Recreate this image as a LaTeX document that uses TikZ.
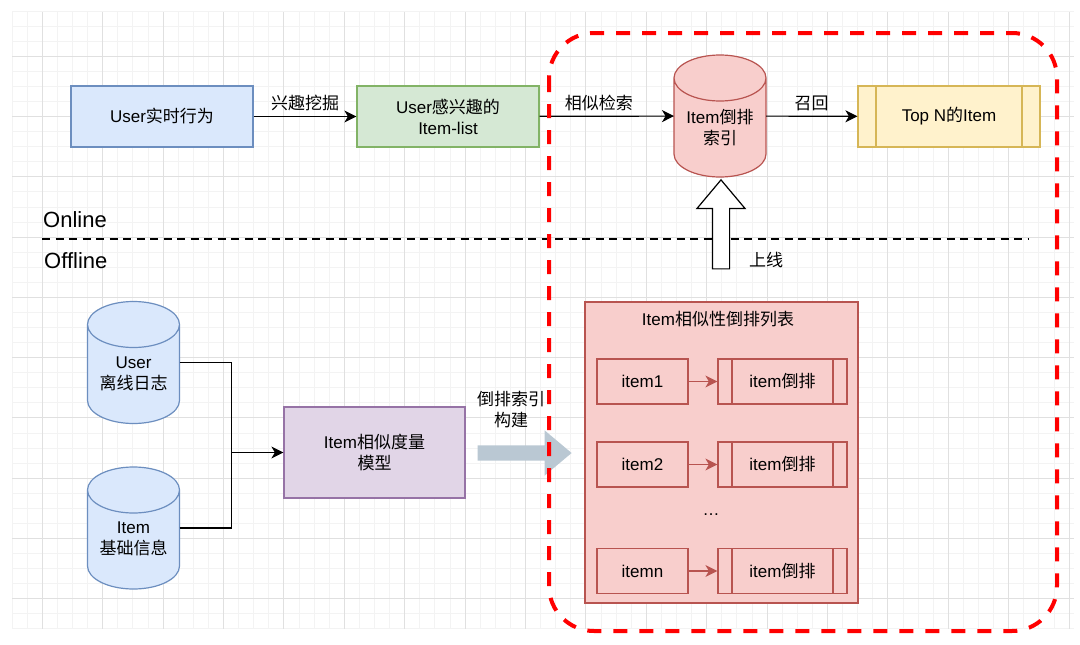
\documentclass[tikz,border=0pt]{standalone}
\usepackage{fontspec}
\setmainfont{Liberation Sans}
\newfontfamily\cjk{Noto Sans CJK SC}
\usetikzlibrary{arrows.meta,shapes.arrows}
\definecolor{blueFill}{HTML}{DAE8FC}
\definecolor{blueLine}{HTML}{6C8EBF}
\definecolor{greenFill}{HTML}{D5E8D4}
\definecolor{greenLine}{HTML}{82B366}
\definecolor{redFill}{HTML}{F8CECC}
\definecolor{redLine}{HTML}{B85450}
\definecolor{purpleFill}{HTML}{E1D5E7}
\definecolor{purpleLine}{HTML}{9673A6}
\definecolor{yellowFill}{HTML}{FFF2CC}
\definecolor{yellowLine}{HTML}{D6B656}
\definecolor{grayArrow}{HTML}{BAC8D3}
\definecolor{gridMinor}{HTML}{F3F3F3}
\definecolor{gridMajor}{HTML}{E0E0E0}
\begin{document}
\begin{tikzpicture}[x=1pt,y=-1pt,
    every node/.style={font=\fontsize{17}{21}\selectfont, align=center, inner sep=0pt},
    box/.style={draw=#1, line width=1.2pt, rectangle},
    db/.style 2 args={rectangle, minimum width=96pt, minimum height=126pt, outer sep=-2pt,
      path picture={\draw[#2, fill=#1, line width=1.2pt]
        ([shift={(-46pt,38pt)}]path picture bounding box.center) -- ([shift={(-46pt,-38pt)}]path picture bounding box.center)
        arc[start angle=180, end angle=360, x radius=46pt, y radius=23pt]
        -- ([shift={(46pt,38pt)}]path picture bounding box.center)
        arc[start angle=0, end angle=360, x radius=46pt, y radius=23pt];}},
    proc/.style 2 args={draw=#2, line width=1.2pt, rectangle,
      path picture={\draw[#2, line width=1.2pt]
        ([xshift=#1]path picture bounding box.north west) -- ([xshift=#1]path picture bounding box.south west)
        ([xshift=-#1]path picture bounding box.north east) -- ([xshift=-#1]path picture bounding box.south east);}},
    link/.style={draw, line width=1.2pt, -{Stealth[length=12pt,width=12pt,inset=3.5pt]}}
  ]

  \fill[white] (0,0) rectangle (1080,645);
  \foreach \i in {0,...,70} \draw[gridMinor, line width=0.8pt] (12+15.1*\i,12) -- (12+15.1*\i,629);
  \foreach \i in {0,...,41} \draw[gridMinor, line width=0.8pt] (12,11+15.07*\i) -- (1074,11+15.07*\i);
  \foreach \i in {0,...,17} \draw[gridMajor, line width=0.8pt] (42.2+60.4*\i,12) -- (42.2+60.4*\i,629);
  \foreach \i in {0,...,9} \draw[gridMajor, line width=0.8pt] (12,56+60.3*\i) -- (1074,56+60.3*\i);

  \begin{scope}[every node/.append style={minimum width=182pt, minimum height=61pt}]
    \node[box=blueLine, fill=blueFill] (behavior) at (162,116.5) {User{\cjk 实时行为}};
    \node[box=greenLine, fill=greenFill] (interest) at (448,116.5) {User{\cjk 感兴趣的}\\Item-list};
    \node[proc={18pt}{yellowLine}, fill=yellowFill] (topn) at (949,116.5) {Top N{\cjk 的}Item};
  \end{scope}

  \node[db={redFill}{redLine}, label={[yshift=-12pt]center:{Item{\cjk 倒排}\\{\cjk 索引}}}] (invindex) at (720,116) {};
  \node[db={blueFill}{blueLine}, label={[yshift=-11pt]center:{User\\{\cjk 离线日志}}}] (userlog) at (133.5,362.5) {};
  \node[db={blueFill}{blueLine}, label={[yshift=-11pt]center:{Item\\{\cjk 基础信息}}}] (iteminfo) at (133.5,528) {};
  \node[box=purpleLine, fill=purpleFill, minimum width=181pt, minimum height=91pt] (model) at (374.5,452.5)
    {Item{\cjk 相似度量}\\{\cjk 模型}};

  \path (behavior) edge[link] node[above=5pt] {\cjk 兴趣挖掘} (interest);
  \path (interest) edge[link] node[above=5pt, xshift=-8pt] {\cjk 相似检索} (invindex);
  \path (invindex) edge[link] node[above=5pt] {\cjk 召回} (topn);

  \draw[line width=1.2pt] (userlog.east) -- ++(52,0) |- (model.west);
  \draw[link] (iteminfo.east) -- ++(52,0) |- (model.west);

  \node[anchor=west, font=\fontsize{22}{26}\selectfont] (online) at (43,220) {Online};
  \node[anchor=west, font=\fontsize{22}{26}\selectfont] (offline) at (44,261) {Offline};
  \draw[line width=2.5pt, dash pattern=on 8pt off 5.5pt] (42,239) -- (1029,239);

  \node[box=redLine, fill=redFill, minimum width=273pt, minimum height=301pt] (simlist) at (721.5,452.5) {};
  \node (simtitle) at (718,319) {Item{\cjk 相似性倒排列表}};
  \begin{scope}[every node/.append style={minimum height=45pt}]
    \foreach \name/\y in {1/381.5, 2/464.5, n/571} {
      \node[box=redLine, minimum width=91pt] (item\name) at (642.5,\y) {item\name};
      \node[proc={14pt}{redLine}, minimum width=129pt] (inv\name) at (782.5,\y) {item{\cjk 倒排}};
      \path (item\name) edge[link, redLine] (inv\name);
    }
  \end{scope}
  \node (dots) at (711,515) {\ldots};

  \node[draw, fill=white, line width=1.2pt, single arrow, shape border rotate=90, inner sep=8pt,
    single arrow head extend=15.5pt, single arrow tip angle=80, minimum height=89pt] (golive) at (721,229.5) {};
  \node (golivelabel) at (766,260) {\cjk 上线};
  \node[fill=grayArrow, single arrow, inner sep=7.5pt, single arrow head extend=15pt,
    single arrow tip angle=80, minimum height=94pt] (build) at (520,453) {};
  \node (buildlabel) at (511,410) {{\cjk 倒排索引}\\{\cjk 构建}};

  \draw[red, line width=4pt, dash pattern=on 14pt off 12pt, rounded corners=45pt] (549,33) rectangle (1057,631);
\end{tikzpicture}
\end{document}
